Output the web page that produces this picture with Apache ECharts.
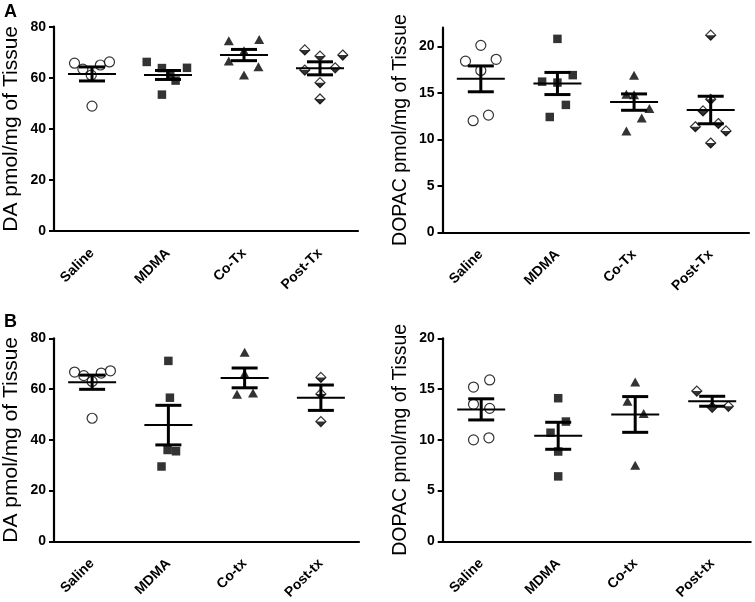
<!DOCTYPE html>
<html><head><meta charset="utf-8">
<script src="https://cdn.jsdelivr.net/npm/echarts@6/dist/echarts.min.js"></script>
<style>html,body{margin:0;padding:0;background:#fff}#c{width:755px;height:602px}</style>
</head><body><div id="c"></div>
<script>
// ---------- categories & ticks ----------
const groupsA = ['Saline', 'MDMA', 'Co-Tx', 'Post-Tx'];
const groupsB = ['Saline', 'MDMA', 'Co-tx', 'Post-tx'];
const yTicksDA = [0, 20, 40, 60, 80];
const yTicksDOPAC = [0, 5, 10, 15, 20];

// ---------- Panel A, DA ----------
const daA_vals = [[65.7, 63.4, 65.0, 66.2, 48.9, 61.0], [66.2, 63.8, 58.9, 63.9, 53.4, 61.5], [74.5, 75.0, 66.6, 70.6, 64.3, 61.1], [70.9, 68.5, 68.9, 63.0, 63.9, 58.1, 51.7]];
const daA_jit = [[-0.23, -0.12, 0.11, 0.23, 0, -0.01], [-0.28, -0.08, 0.10, 0.25, -0.08, 0.03], [-0.2, 0.2, -0.2, 0, 0.19, 0], [-0.2, 0, 0.3, -0.2, 0.2, 0, 0]];
const daA_means = [61.5, 61.1, 68.9, 63.7];
const daA_sems = [2.74, 1.76, 2.2, 2.55];

// ---------- Panel A, DOPAC ----------
const dopacA_vals = [[18.4, 20.1, 18.6, 17.4, 12.0, 12.6], [20.8, 16.9, 16.2, 16.1, 13.7, 12.4], [16.9, 14.85, 14.8, 13.3, 12.3, 10.9], [21.2, 14.3, 13.05, 11.35, 11.7, 10.9, 9.6]];
const dopacA_jit = [[-0.2, 0, 0.2, 0, -0.1, 0.1], [0, 0.2, -0.2, 0, 0.11, -0.1], [0, -0.1, 0, 0.2, 0.1, -0.1], [0, 0, -0.1, -0.2, 0.1, 0.2, 0]];
const dopacA_means = [16.5, 16.0, 14.0, 13.15];
const dopacA_sems = [1.39, 1.19, 0.88, 1.48];

// ---------- Panel B, DA ----------
const daB_vals = [[66.7, 65.3, 66.3, 67.2, 63.0, 48.5], [71.1, 56.6, 36.0, 35.5, 29.5], [74.5, 66.0, 58.0, 58.5], [64.6, 58.1, 47.2]];
const daB_jit = [[-0.23, -0.11, 0.12, 0.24, 0, 0], [0, 0.02, -0.01, 0.1, -0.09], [0, 0, -0.1, 0.11], [0, 0, 0]];
const daB_means = [62.7, 45.8, 64.4, 56.6];
const daB_sems = [2.8, 7.8, 3.9, 5.0];

// ---------- Panel B, DOPAC ----------
const dopacB_vals = [[15.2, 15.9, 13.5, 13.1, 10.0, 10.2], [14.1, 11.8, 10.7, 8.85, 6.4], [15.7, 13.8, 12.6, 7.5], [14.8, 13.2, 13.3]];
const dopacB_jit = [[-0.1, 0.11, -0.1, 0.11, -0.1, 0.1], [0, 0.1, -0.1, 0, 0], [0, -0.1, 0.11, 0], [-0.2, 0, 0.21]];
const dopacB_means = [13.0, 10.4, 12.5, 13.8];
const dopacB_sems = [1.04, 1.33, 1.76, 0.49];

// ---------- build ----------
const FONT = "'Liberation Sans', Arial, sans-serif";
const panels = [
  {cats: groupsA, vals: daA_vals, jit: daA_jit, means: daA_means, sems: daA_sems, yMax: 80, ticks: yTicksDA, name: 'DA pmol/mg of Tissue', nameSize: 21, nameGap: 32,
   grid: {left: 50.5, top: 26.7, width: 307.5, height: 204.3}},
  {cats: groupsA, vals: dopacA_vals, jit: dopacA_jit, means: dopacA_means, sems: dopacA_sems, yMax: 22, ticks: yTicksDOPAC, name: 'DOPAC pmol/mg of Tissue', nameSize: 19.5, nameGap: 32,
   grid: {left: 442.5, top: 27.7, width: 306.5, height: 204.6}},
  {cats: groupsB, vals: daB_vals, jit: daB_jit, means: daB_means, sems: daB_sems, yMax: 80, ticks: yTicksDA, name: 'DA pmol/mg of Tissue', nameSize: 21, nameGap: 32,
   grid: {left: 51, top: 338.3, width: 308, height: 205}},
  {cats: groupsB, vals: dopacB_vals, jit: dopacB_jit, means: dopacB_means, sems: dopacB_sems, yMax: 20, ticks: yTicksDOPAC, name: 'DOPAC pmol/mg of Tissue', nameSize: 19.5, nameGap: 32,
   grid: {left: 442.7, top: 338.3, width: 308, height: 205}}
];

const grids = [], xAxes = [], yAxes = [], series = [];
const symbolStyles = [
  {symbol: 'circle', symbolSize: 10, itemStyle: {color: '#fff', borderColor: '#000', borderWidth: 1.2}},
  {symbol: 'rect', symbolSize: 8.5, itemStyle: {color: '#000'}},
  {symbol: 'triangle', symbolSize: [10, 9], itemStyle: {color: '#000'}},
  {symbol: 'diamond', symbolSize: 10, itemStyle: {color: '#fff', borderColor: '#000', borderWidth: 1.2}}
];

panels.forEach((p, g) => {
  grids.push(Object.assign({containLabel: false}, p.grid));
  xAxes.push({
    type: 'category', gridIndex: g, data: p.cats, boundaryGap: true,
    axisLine: {onZero: false, lineStyle: {color: '#000', width: 2.2}},
    axisTick: {alignWithLabel: true, length: 5, lineStyle: {color: '#000', width: 2}},
    axisLabel: {interval: 0, rotate: 45, margin: 20, color: '#000', fontWeight: 'bold', fontSize: 14, fontFamily: FONT},
    splitLine: {show: false}
  });
  xAxes.push({type: 'value', gridIndex: g, min: -0.5, max: 3.5, show: false});
  yAxes.push({
    type: 'value', gridIndex: g, min: 0, max: p.yMax, interval: p.ticks[1] - p.ticks[0],
    name: p.name, nameLocation: 'middle', nameGap: p.nameGap,
    nameTextStyle: {fontSize: p.nameSize, color: '#000', fontFamily: FONT},
    axisLine: {show: true, onZero: false, lineStyle: {color: '#000', width: 2.2}},
    axisTick: {show: true, length: 5, customValues: p.ticks, lineStyle: {color: '#000', width: 2}},
    axisLabel: {customValues: p.ticks, margin: 8, color: '#000', fontWeight: 'bold', fontSize: 14, fontFamily: FONT},
    splitLine: {show: false}
  });
  p.vals.forEach((arr, k) => {
    const data = arr.map((v, j) => [k + p.jit[k][j], v]);
    series.push(Object.assign({
      type: 'scatter', xAxisIndex: 2 * g + 1, yAxisIndex: g, data: data, z: 2, silent: true
    }, symbolStyles[k]));
    if (k === 3) {
      series.push({
        type: 'scatter', xAxisIndex: 2 * g + 1, yAxisIndex: g, data: data, z: 3, silent: true,
        symbol: 'path://M0,0L2,0L1,1Z', symbolSize: [10, 5], symbolOffset: [0, 2.5],
        itemStyle: {color: '#000'}
      });
    }
  });
  series.push({
    type: 'custom', xAxisIndex: 2 * g + 1, yAxisIndex: g, z: 4, silent: true,
    data: p.means.map((m, k) => [k, m, p.sems[k]]),
    encode: {x: 0, y: 1},
    renderItem: function (params, api) {
      const i = api.value(0), m = api.value(1), s = api.value(2);
      const c = api.coord([i, m]);
      const t = api.coord([i, m + s]);
      const b = api.coord([i, m - s]);
      const st = w => ({stroke: '#000', lineWidth: w});
      return {type: 'group', children: [
        {type: 'line', shape: {x1: c[0] - 24, y1: c[1], x2: c[0] + 24, y2: c[1]}, style: st(2)},
        {type: 'line', shape: {x1: c[0], y1: t[1], x2: c[0], y2: b[1]}, style: st(3)},
        {type: 'line', shape: {x1: c[0] - 13, y1: t[1], x2: c[0] + 13, y2: t[1]}, style: st(3)},
        {type: 'line', shape: {x1: c[0] - 13, y1: b[1], x2: c[0] + 13, y2: b[1]}, style: st(3)}
      ]};
    }
  });
});

const chart = echarts.init(document.getElementById('c'), null, {renderer: 'canvas'});
chart.setOption({
  backgroundColor: '#fff',
  animation: false,
  grid: grids, xAxis: xAxes, yAxis: yAxes, series: series,
  graphic: [
    {type: 'text', left: 4, top: 3, style: {text: 'A', font: "bold 18px 'Liberation Sans', Arial, sans-serif", fill: '#000'}},
    {type: 'text', left: 4, top: 313, style: {text: 'B', font: "bold 18px 'Liberation Sans', Arial, sans-serif", fill: '#000'}}
  ]
});
</script>
</body></html>
